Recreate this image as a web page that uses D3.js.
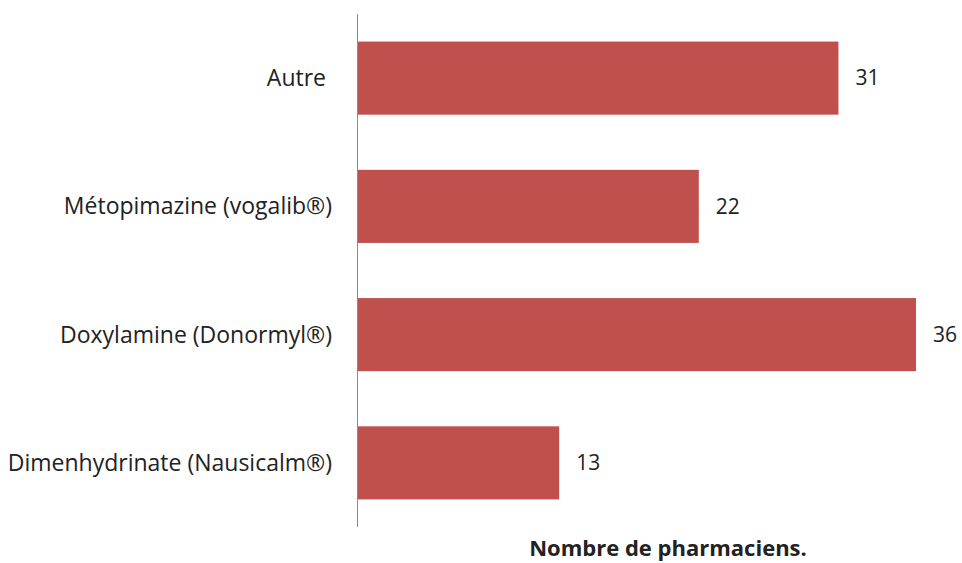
<!DOCTYPE html>
<html><head><meta charset="utf-8">
<script src="https://cdn.jsdelivr.net/npm/d3@7"></script>
<style>body{margin:0;background:#fff}svg{display:block}text{font-family:"Open Sans",sans-serif;fill:#222;white-space:pre}</style>
</head><body><svg id="c" width="962" height="563"></svg>
<script>
const categories = ["Autre ","Métopimazine (vogalib®)","Doxylamine (Donormyl®)","Dimenhydrinate (Nausicalm®)"];
const values = [31,22,36,13];
const axisTitle = "Nombre de pharmaciens.";

const svg = d3.select("#c");
const x0 = 357.5;
const x = d3.scaleLinear().domain([0,36]).range([x0,916]);
const y = d3.scaleBand().domain(categories).range([14,527]).paddingInner(0.43).paddingOuter(0.215);

svg.selectAll("rect.bar").data(categories).enter().append("rect")
  .attr("class","bar")
  .attr("x",x(0)+0.5).attr("y",d=>y(d))
  .attr("width",(d,i)=>x(values[i])-x(0)-0.5).attr("height",y.bandwidth())
  .attr("fill","#C0504D");

svg.append("line").attr("x1",x0).attr("x2",x0).attr("y1",14).attr("y2",527)
  .attr("stroke","#8c8c8c").attr("stroke-width",1);

svg.selectAll("text.cat").data(categories).enter().append("text")
  .attr("class","cat").attr("x",332).attr("y",d=>y(d)+y.bandwidth()/2).attr("dy","0.35em")
  .attr("text-anchor","end").attr("font-size",23).text(d=>d);

svg.selectAll("text.val").data(values).enter().append("text")
  .attr("class","val").attr("x",d=>x(d)+17).attr("y",(d,i)=>y(categories[i])+y.bandwidth()/2).attr("dy","0.35em")
  .attr("font-size",21).text(d=>d);

svg.append("text").attr("x",668).attr("y",556).attr("text-anchor","middle")
  .attr("font-size",22).attr("font-weight","bold").text(axisTitle);
</script></body></html>
